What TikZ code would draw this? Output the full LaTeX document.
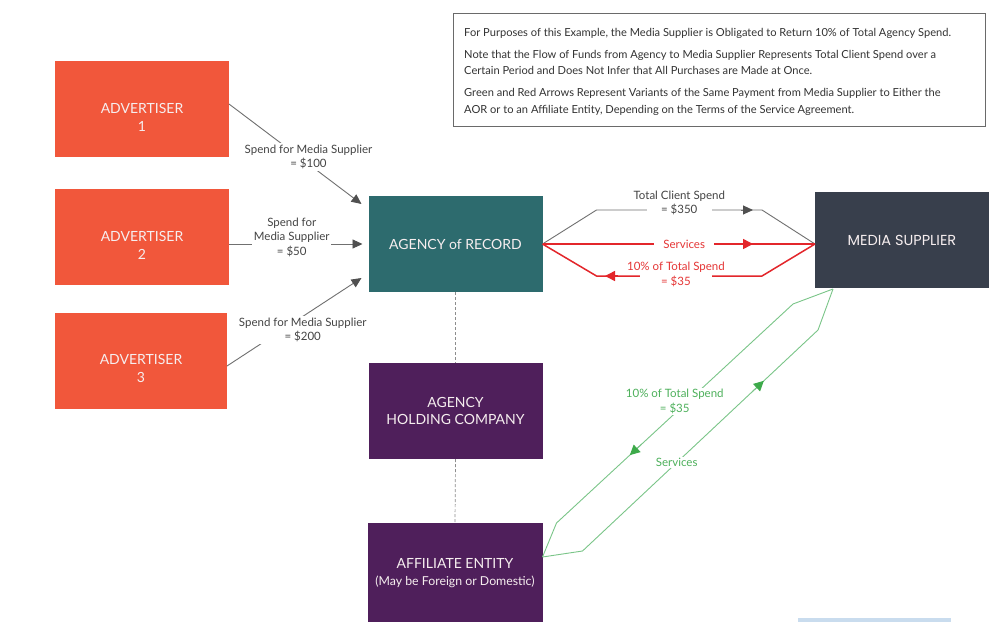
\documentclass[tikz,border=0pt]{standalone}
\usepackage{fontspec}
\setmainfont{Lato}
\newfontfamily\msfont{Poppins}
\usetikzlibrary{arrows.meta,calc}
\definecolor{advc}{HTML}{F1573B}
\definecolor{aorc}{HTML}{2D6B6E}
\definecolor{purp}{HTML}{4F1F5B}
\definecolor{msc}{HTML}{383F4C}
\definecolor{boxtext}{HTML}{F6EEEF}
\definecolor{lgray}{HTML}{707070}
\definecolor{dgray}{HTML}{505050}
\definecolor{labt}{HTML}{444444}
\definecolor{redl}{HTML}{E3262B}
\definecolor{redt}{HTML}{E53535}
\definecolor{greenl}{HTML}{7AC588}
\definecolor{greenh}{HTML}{3DAA4A}
\definecolor{greent}{HTML}{4DB05B}
\definecolor{notec}{HTML}{6A6A6A}
\definecolor{notet}{HTML}{333333}
\definecolor{bluebar}{HTML}{C9DCEE}
\begin{document}
\begin{tikzpicture}[x=1pt,y=-1pt,
  box/.style={inner sep=0pt, outer sep=0pt, minimum width=174pt, minimum height=96pt,
    align=center, text=boxtext, font=\fontsize{14}{17}\selectfont},
  boxtxt/.style={inner sep=0pt, align=center, text=boxtext, font=\fontsize{14}{18}\selectfont},
  lbl/.style={fill=white, inner sep=1.5pt, align=center, text=labt, font=\fontsize{11.5}{14.5}\selectfont},
  gline/.style={draw=lgray, line width=0.9pt},
  rline/.style={draw=redl, line width=1.5pt},
  grline/.style={draw=greenl, line width=0.9pt},
  gtip/.style={-{Triangle[length=10pt,width=9pt,color=dgray]}},
  rtip/.style={-{Triangle[length=10pt,width=10pt,color=redl]}},
  grtip/.style={-{Triangle[length=10pt,width=10pt,color=greenh]}},
  dashline/.style={draw=lgray!80, line width=0.7pt, dash pattern=on 3pt off 2pt}]
\useasboundingbox (0,0) rectangle (1000,621);
\fill[white] (0,0) rectangle (1000,621);

% note box
\node[draw=notec, line width=0.8pt, minimum width=532pt, minimum height=113pt, inner sep=0pt] (note) at (719,69.5) {};
\node[anchor=north west, inner sep=0pt, align=left, text=notet, font=\fontsize{11.1}{16.5}\selectfont] (notet) at (464,28)
 {For Purposes of this Example, the Media Supplier is Obligated to Return 10\% of Total Agency Spend.\\[5.5pt]
  Note that the Flow of Funds from Agency to Media Supplier Represents Total Client Spend over a\\
  Certain Period and Does Not Infer that All Purchases are Made at Once.\\[5.5pt]
  Green and Red Arrows Represent Variants of the Same Payment from Media Supplier to Either the\\
  AOR or to an Affiliate Entity, Depending on the Terms of the Service Agreement.};

% boxes
\node[box, fill=advc] (adv1) at (142,109) {};
\node[boxtxt] (adv1t) at (142,117) {ADVERTISER\\1};
\node[box, fill=advc] (adv2) at (142,237) {};
\node[boxtxt] (adv2t) at (142,245) {ADVERTISER\\2};
\node[box, fill=advc, minimum width=172pt] (adv3) at (141,361) {};
\node[boxtxt] (adv3t) at (141,368) {ADVERTISER\\3};
\node[box, fill=aorc] (aor) at (455.5,244) {AGENCY of RECORD};
\node[box, fill=purp] (hold) at (455.5,411) {AGENCY\\HOLDING COMPANY};
\node[box, fill=purp, minimum width=175pt, minimum height=100pt] (aff) at (455,573)
  {AFFILIATE ENTITY\\{\fontsize{12.3}{15}\selectfont (May be Foreign or Domestic)}};
\node[box, fill=msc, font=\msfont\fontsize{14.5}{16}\selectfont] (ms) at (902,240) {MEDIA SUPPLIER};

% dashed links
\draw[dashline] (aor.south) -- (hold.north);
\draw[dashline] (hold.south) -- (aff.north);

% advertiser connectors
\coordinate (a1s) at ($(adv1.east)+(0,-5)$);
\coordinate (a1e) at ($(aor.west)+(-7,-40)$);
\draw[gline, gtip] (a1s) -- node[lbl, pos=0.6, yshift=7pt]{Spend for Media Supplier\\= \$100} (a1e);
\coordinate (a2s) at (adv2.east |- aor.west);
\coordinate (a2e) at ($(aor.west)+(-6,0)$);
\draw[gline, gtip] (a2s) -- node[lbl, pos=0.47, yshift=7pt]{Spend for\\Media Supplier\\= \$50} (a2e);
\coordinate (a3s) at ($(adv3.east)+(0,5)$);
\coordinate (a3e) at ($(aor.west)+(-7,34)$);
\draw[gline, gtip] (a3s) -- node[lbl, pos=0.563, yshift=-13.5pt]{Spend for Media Supplier\\= \$200} (a3e);

% AOR <-> Media supplier
\coordinate (jA) at (aor.east);
\coordinate (jB) at (ms.west |- aor.east);
\coordinate (g1) at ($(jA)+(54,-34)$);
\coordinate (g2) at ($(jB)+(-53,-34)$);
\draw[gline] (jA) -- (g1) -- node[lbl, pos=0.5, yshift=7pt, inner xsep=-13pt]{Total Client Spend\\= \$350} (g2) -- (jB);
\draw[gline, gtip] ($(g2)+(-21,0)$) -- ($(g2)+(-9,0)$);

\draw[rline] (jA) -- node[lbl, text=redt, pos=0.52, inner xsep=9pt]{Services} (jB);
\draw[rline, rtip] ($(jB)+(-74,0)$) -- ($(jB)+(-62,0)$);

\coordinate (r1) at ($(jB)+(-53,32)$);
\coordinate (r2) at ($(jA)+(54,32)$);
\draw[rline] (jB) -- (r1) -- node[lbl, text=redt, pos=0.52, yshift=1.5pt, inner xsep=-13pt]{10\% of Total Spend\\= \$35} (r2) -- (jA);
\draw[rline, rtip] ($(r2)+(21,0)$) -- ($(r2)+(8.5,0)$);

% green variant
\coordinate (m0) at ($(ms.south west)+(18,1)$);
\coordinate (m1) at ($(ms.south west)+(-22,16)$);
\coordinate (m2) at ($(ms.south west)+(3,42)$);
\coordinate (f0) at ($(aff.east)+(0,-16)$);
\coordinate (f1) at ($(aff.east)+(14,-50)$);
\coordinate (f2) at ($(aff.east)+(40,-22)$);
\draw[grline] (m0) -- (m1) -- node[lbl, text=greent, pos=0.5, yshift=12pt]{10\% of Total Spend\\= \$35} (f1) -- (f0);
\draw[grline, grtip] ($(m1)!0.64!(f1)$) -- ($(m1)!0.69!(f1)$);
\draw[grline] (f0) -- (f2) -- node[lbl, text=greent, pos=0.4]{Services} (m2) -- (m0);
\draw[grline, grtip] ($(f2)!0.72!(m2)$) -- ($(f2)!0.77!(m2)$);

% partial element at the bottom edge
\fill[bluebar] (798,618) rectangle (951,623);
\end{tikzpicture}
\end{document}
